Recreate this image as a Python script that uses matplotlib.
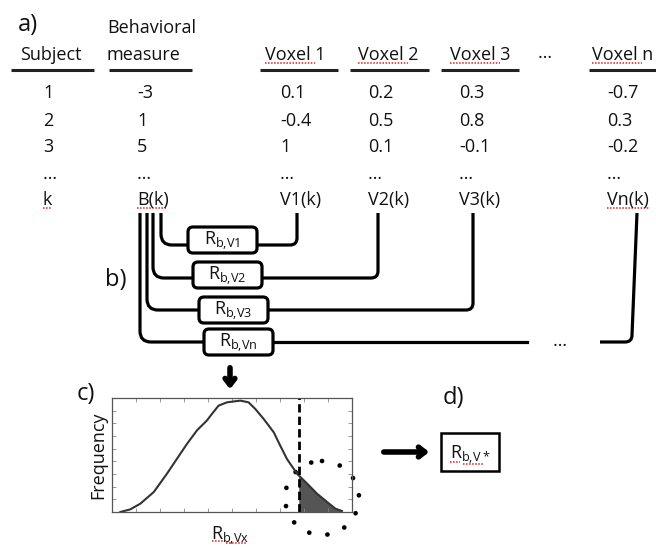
import numpy as np
import matplotlib.pyplot as plt
from matplotlib.patches import FancyBboxPatch, Rectangle, Circle, PathPatch
from matplotlib.path import Path

plt.rcParams['font.family'] = ['Open Sans', 'DejaVu Sans']
plt.rcParams['mathtext.default'] = 'regular'

# a) table
subjects = ['1', '2', '3', '…', 'k']
behavior = ['-3', '1', '5', '…', 'B(k)']
voxel_1 = ['0.1', '-0.4', '1', '…', 'V1(k)']
voxel_2 = ['0.2', '0.5', '0.1', '…', 'V2(k)']
voxel_3 = ['0.3', '0.8', '-0.1', '…', 'V3(k)']
voxel_n = ['-0.7', '0.3', '-0.2', '…', 'Vn(k)']
headers = ['Subject', 'Behavioral\nmeasure', 'Voxel 1', 'Voxel 2', 'Voxel 3', 'Voxel n']

# b) correlation boxes
corr_names = ['V1', 'V2', 'V3', 'Vn']

# c) null distribution (fraction of axes)
dist_x = [0.035, 0.076, 0.118, 0.174, 0.229, 0.285, 0.313, 0.354, 0.396, 0.417,
          0.444, 0.479, 0.535, 0.569, 0.597, 0.632, 0.674, 0.701, 0.729, 0.771,
          0.813, 0.854, 0.896, 0.931, 0.958]
dist_y = [0.0, 0.023, 0.073, 0.175, 0.336, 0.512, 0.599, 0.716, 0.804, 0.862,
          0.933, 0.962, 0.977, 0.962, 0.904, 0.816, 0.699, 0.582, 0.465, 0.336,
          0.249, 0.161, 0.088, 0.029, 0.009]
threshold = 0.778

TXT = '#111111'
LW = 2.3
FS = 13


def squiggle(ax, x0, x1, y):
    # spell-check underline
    ax.plot([x0, x1], [y, y], color='#e0201a', lw=1.1, ls=(0, (1, 1)))


def left_elbow(ax, xv, top, yh, xend, r=11):
    verts = [(xv, top), (xv, yh - r), (xv, yh), (xv + r, yh), (xend, yh)]
    codes = [Path.MOVETO, Path.LINETO, Path.CURVE3, Path.CURVE3, Path.LINETO]
    ax.add_patch(PathPatch(Path(verts, codes), fc='none', ec='black', lw=LW))


def right_elbow(ax, xstart, yh, xv, top, r=7, lean=0):
    verts = [(xstart, yh), (xv - r, yh), (xv, yh), (xv, yh - r), (xv + lean, top)]
    codes = [Path.MOVETO, Path.LINETO, Path.CURVE3, Path.CURVE3, Path.LINETO]
    ax.add_patch(PathPatch(Path(verts, codes), fc='none', ec='black', lw=LW))


fig = plt.figure(figsize=(6.56, 5.48), dpi=100)
ax = fig.add_axes([0, 0, 1, 1])
ax.set_xlim(0, 656)
ax.set_ylim(548, 0)
ax.axis('off')

# ---- a) ----
ax.text(18, 31, 'a)', fontsize=17, color=TXT)
head_x = [20, 107, 265, 358, 450, 592]
line_spans = [(11, 94), (109, 192), (260, 338), (350, 429), (441, 519), (589, 660)]
for i, h in enumerate(headers):
    if '\n' in h:
        top, bot = h.split('\n')
        ax.text(head_x[i], 33, top, fontsize=FS, color=TXT)
        ax.text(head_x[i], 60, bot, fontsize=FS, color=TXT)
    else:
        ax.text(head_x[i], 60, h, fontsize=FS, color=TXT)
    if h.startswith('Voxel'):
        squiggle(ax, head_x[i], head_x[i] + 50, 63)
    ax.plot(line_spans[i], [70, 70], color='#222222', lw=2.2, solid_capstyle='butt')
ax.text(538, 58, '…', fontsize=FS, color=TXT)

cols = [subjects, behavior, voxel_1, voxel_2, voxel_3, voxel_n]
col_x = [43, 137, 280, 368, 459, 607]
row_y = [98, 126, 152, 179, 205]
for cx, col in zip(col_x, cols):
    for ry, v in zip(row_y, col):
        ax.text(cx, ry, v, fontsize=FS, color=TXT)
squiggle(ax, 43, 52, 208)
squiggle(ax, 137, 166, 208)
squiggle(ax, 607, 650, 208)

# ---- b) ----
ax.text(105, 286, 'b)', fontsize=17, color=TXT)
top = 213
left_x = [161, 153, 147, 140]
link_y = [245, 278, 310, 342]
box_left = [188, 193, 199, 204]
box_top = [227, 262, 297, 329]
box_w, box_h = 69, 26
right_x = [297, 378, 473, 632]
for i, name in enumerate(corr_names):
    left_elbow(ax, left_x[i], top, link_y[i], box_left[i])
    ax.add_patch(FancyBboxPatch((box_left[i], box_top[i]), box_w, box_h,
                                boxstyle='round,pad=0,rounding_size=5',
                                fc='white', ec='black', lw=LW, zorder=3))
    ax.text(box_left[i] + box_w / 2, box_top[i] + box_h / 2 + 1,
            r'R$_{b{,}%s}$' % name, fontsize=FS, color=TXT,
            ha='center', va='center', zorder=4)
    if name != 'Vn':
        right_elbow(ax, box_left[i] + box_w, link_y[i], right_x[i], top)
# Vn link, broken by an ellipsis
ax.plot([box_left[3] + box_w, 527], [link_y[3], link_y[3]], color='black', lw=LW)
ax.text(553, 346, '…', fontsize=FS, color=TXT)
right_elbow(ax, 600, link_y[3], right_x[3], top, lean=5)
squiggle(ax, 213, 223, 352)
squiggle(ax, 225, 250, 354)

# ---- c) ----
ax.annotate('', xy=(230, 392), xytext=(230, 365),
            arrowprops=dict(arrowstyle='->,head_length=0.45,head_width=0.35',
                            lw=4, color='black'))
ax.text(77, 400, 'c)', fontsize=17, color=TXT)
ax.add_patch(Circle((322, 498), 37, fc='none', ec='black', lw=3.4,
                    ls=(0, (0.01, 3.9)), capstyle='round', zorder=5))

hx = fig.add_axes([112 / 656, 1 - 512 / 548, 240 / 656, 114 / 548])
hx.patch.set_facecolor('none')
dx = np.array(dist_x)
dy = np.array(dist_y)
hx.plot(dx, dy, color='#333333', lw=1.5)
y_thr = np.interp(threshold, dx, dy)
tail = dx > threshold
hx.fill_between(np.r_[threshold, dx[tail]], np.r_[y_thr, dy[tail]], 0,
                color='#555555', lw=0)
hx.axvline(threshold, color='black', lw=2, ls=(0, (3, 1.5)))
hx.set_xlim(0, 1)
hx.set_ylim(0, 1)
hx.set_xticks(np.linspace(0, 1, 11))
hx.set_yticks(np.linspace(0, 1, 10))
hx.tick_params(direction='in', length=3, width=0.6, color='#888888',
               top=True, right=True, labelbottom=False, labelleft=False)
for s in hx.spines.values():
    s.set_color('#555555')
    s.set_linewidth(0.9)

ax.text(98, 455, 'Frequency', fontsize=FS, color=TXT, rotation=90,
        ha='center', va='center')
ax.text(230, 540, r'R$_{b{,}Vx}$', fontsize=FS, color=TXT, ha='center')
squiggle(ax, 212, 223, 541)
squiggle(ax, 226, 247, 543)

# ---- d) ----
ax.text(443, 404, 'd)', fontsize=17, color=TXT)
ax.annotate('', xy=(432, 452), xytext=(381, 452),
            arrowprops=dict(arrowstyle='->,head_length=0.45,head_width=0.35',
                            lw=4, color='black'))
ax.add_patch(Rectangle((441, 433), 58, 38, fc='white', ec='black', lw=1.8))
ax.text(470, 459, r'R$_{b{,}V*}$', fontsize=FS, color=TXT, ha='center')
squiggle(ax, 450, 460, 462)
squiggle(ax, 463, 483, 464)

fig.savefig('out.png', dpi=100)
